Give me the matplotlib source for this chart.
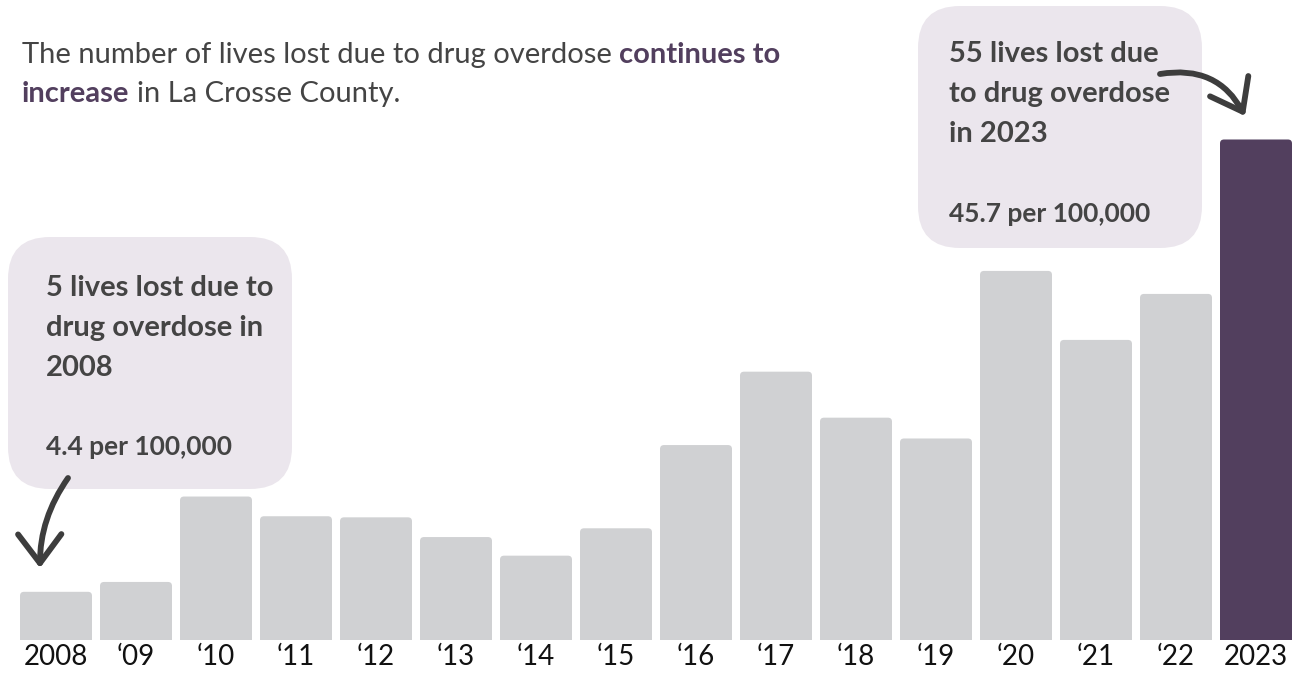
import matplotlib
matplotlib.use("Agg")
import matplotlib.pyplot as plt
from matplotlib.patches import FancyBboxPatch, FancyArrowPatch

# overdose deaths per 100,000, La Crosse County
years = ["2008", "\u201809", "\u201810", "\u201811", "\u201812", "\u201813", "\u201814", "\u201815",
         "\u201816", "\u201817", "\u201818", "\u201819", "\u201820", "\u201821", "\u201822", "2023"]
rates = [4.4, 5.3, 13.1, 11.3, 11.2, 9.4, 7.7, 10.2,
         17.8, 24.5, 20.3, 18.4, 33.7, 27.4, 31.6, 45.7]

GRAY = "#d0d1d3"
PURPLE = "#523f5e"
TEXT = "#444444"
BOX = "#ebe6ed"

plt.rcParams["font.family"] = ["Lato", "DejaVu Sans"]

W, H = 1298, 673
fig = plt.figure(figsize=(W / 100, H / 100), dpi=100)
fig.patch.set_facecolor("white")

# bar axes: baseline 33 px above bottom
ax = fig.add_axes([0, 33 / H, 1, 640 / H])
ax.set_xlim(-0.7, 15.525)
ax.set_ylim(0, 640 / 10.952)
for i, v in enumerate(rates):
    col = PURPLE if i == len(rates) - 1 else GRAY
    ax.add_patch(FancyBboxPatch((i - 0.45, -3), 0.9, v + 3,
                                boxstyle="round,pad=0,rounding_size=0.05",
                                mutation_aspect=7.3, fc=col, ec="none"))
ax.set_xticks(range(len(years)), years, fontsize=20, color="#111111")
ax.tick_params(axis="x", length=0, pad=3)
ax.set_yticks([])
for s in ax.spines.values():
    s.set_visible(False)
ax.patch.set_alpha(0)

# overlay in pixel coordinates (y down)
ov = fig.add_axes([0, 0, 1, 1])
ov.set_xlim(0, W)
ov.set_ylim(H, 0)
ov.axis("off")
ov.patch.set_alpha(0)

ov.add_patch(FancyBboxPatch((8, 237), 284, 252, boxstyle="round,pad=0,rounding_size=42",
                            fc=BOX, ec="none"))
ov.add_patch(FancyBboxPatch((918, 6), 284, 242, boxstyle="round,pad=0,rounding_size=42",
                            fc=BOX, ec="none"))

left_lines = ["5 lives lost due to", "drug overdose in", "2008"]
for k, t in enumerate(left_lines):
    ov.text(46, 296 + 40 * k, t, fontsize=21, fontweight="bold", color=TEXT, va="baseline")
ov.text(46, 455, "4.4 per 100,000", fontsize=19, fontweight="bold", color=TEXT, va="baseline")

right_lines = ["55 lives lost due", "to drug overdose", "in 2023"]
for k, t in enumerate(right_lines):
    ov.text(949, 62 + 40 * k, t, fontsize=21, fontweight="bold", color=TEXT, va="baseline")
ov.text(949, 222, "45.7 per 100,000", fontsize=19, fontweight="bold", color=TEXT, va="baseline")

# arrows
for a, b, rad in [((68, 478), (40, 568), 0.16), ((1160, 74), (1245, 116), -0.36)]:
    ov.add_patch(FancyArrowPatch(a, b, connectionstyle=f"arc3,rad={rad}",
                                 arrowstyle="->,head_length=0.8,head_width=0.6",
                                 mutation_scale=26, lw=4.2, color="#3d3d3d",
                                 capstyle="round", joinstyle="round",
                                 shrinkA=0, shrinkB=0))

# title with mixed styles
title_parts = [
    [("The number of lives lost due to drug overdose", "normal", TEXT),
     ("continues to", "bold", PURPLE)],
    [("increase", "bold", PURPLE), ("in La Crosse County.", "normal", TEXT)],
]
fig.canvas.draw()
rend = fig.canvas.get_renderer()


def width_of(t):
    bb = t.get_window_extent(renderer=rend)
    return bb.width


probe1 = ov.text(0, 0, "a b", fontsize=21)
probe2 = ov.text(0, 0, "ab", fontsize=21)
space = width_of(probe1) - width_of(probe2)
probe1.remove()
probe2.remove()

for k, parts in enumerate(title_parts):
    x = 22
    for txt, wt, col in parts:
        t = ov.text(x, 63 + 39 * k, txt, fontsize=21, fontweight=wt, color=col, va="baseline")
        x += width_of(t) + space

fig.savefig("out.png", dpi=100)
